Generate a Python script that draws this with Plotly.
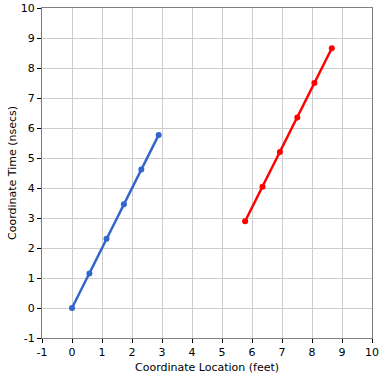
import plotly.graph_objects as go

blue_x = [0, 0.58, 1.15, 1.73, 2.31, 2.89]
blue_y = [0, 1.15, 2.31, 3.46, 4.62, 5.77]
red_x = [5.77, 6.35, 6.93, 7.51, 8.08, 8.66]
red_y = [2.89, 4.04, 5.20, 6.35, 7.50, 8.66]
tick_vals = list(range(-1, 11))
tick_text = [str(v) for v in tick_vals]
x_title = "Coordinate Location (feet)"
y_title = "Coordinate Time (nsecs)"

fig = go.Figure()
fig.add_trace(go.Scatter(x=blue_x, y=blue_y, mode="lines+markers",
                         line=dict(color="#3366cc", width=2.5),
                         marker=dict(color="#3366cc", size=6)))
fig.add_trace(go.Scatter(x=red_x, y=red_y, mode="lines+markers",
                         line=dict(color="#ff0000", width=2.5),
                         marker=dict(color="#ff0000", size=6)))

axis_common = dict(showgrid=True, gridcolor="#cccccc", gridwidth=1,
                   showline=True, linecolor="#808080", linewidth=1, mirror=True,
                   ticks="outside", ticklen=4, tickcolor="#000000",
                   zeroline=False, automargin=False,
                   tickvals=tick_vals, ticktext=tick_text,
                   tickfont=dict(family="DejaVu Sans", size=11, color="#000000"))

fig.update_xaxes(range=[-1, 10], **axis_common)
fig.update_yaxes(range=[-1, 10], **axis_common)

fig.add_annotation(text=x_title, xref="paper", yref="paper", x=0.5, y=0,
                   yshift=-21, showarrow=False, yanchor="top",
                   font=dict(family="DejaVu Sans", size=11, color="#000000"))
fig.add_annotation(text=y_title, xref="paper", yref="paper", x=0, y=0.5,
                   xshift=-30, showarrow=False, textangle=-90, xanchor="center",
                   font=dict(family="DejaVu Sans", size=11, color="#000000"))

fig.update_layout(width=383, height=378, showlegend=False,
                  margin=dict(l=42, r=11, t=8, b=40),
                  plot_bgcolor="white", paper_bgcolor="white",
                  font=dict(family="DejaVu Sans", size=11))

fig.write_html("out.html", config={"displayModeBar": False},
               post_script="document.body.style.margin='0';")
